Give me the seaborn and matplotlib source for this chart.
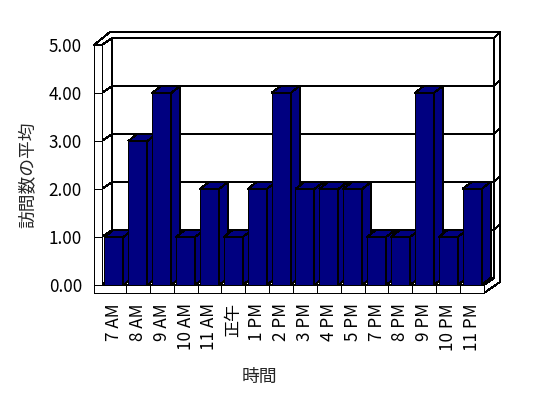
import matplotlib
matplotlib.use("Agg")
import matplotlib.pyplot as plt
import seaborn as sns
import pandas as pd
from matplotlib.patches import Polygon
from matplotlib.lines import Line2D

# ---- data ----
hours = ["7 AM", "8 AM", "9 AM", "10 AM", "11 AM", "正午", "1 PM", "2 PM",
         "3 PM", "4 PM", "5 PM", "7 PM", "8 PM", "9 PM", "10 PM", "11 PM"]
visits = [1, 3, 4, 1, 2, 1, 2, 4, 2, 2, 2, 1, 1, 4, 1, 2]
ytick_values = [0, 1, 2, 3, 4, 5]
ytick_labels = ["0.00", "1.00", "2.00", "3.00", "4.00", "5.00"]
xlabel = "時間"
ylabel = "訪問数の平均"

NAVY = "#000080"
LW = 0.72

sns.set_theme(style="white")
plt.rcParams["font.family"] = ["Noto Sans CJK JP", "DejaVu Sans"]
plt.rcParams["patch.antialiased"] = False
plt.rcParams["lines.antialiased"] = False

W, H = 548, 398
fig = plt.figure(figsize=(W / 100, H / 100), dpi=100)
fig.patch.set_facecolor("white")
ax = fig.add_axes([102 / W, 1 - 285 / H, 382 / W, 240 / H])

df = pd.DataFrame({"hour": hours, "visits": visits})
sns.barplot(data=df, x="hour", y="visits", color=NAVY, saturation=1,
            width=0.8, edgecolor="black", linewidth=LW, ax=ax)
bars = list(ax.patches)

ax.set_xlim(-0.5, len(hours) - 0.5)
ax.set_ylim(ytick_values[0], ytick_values[-1])
for s in ax.spines.values():
    s.set_visible(False)
ax.patch.set_alpha(0)
ax.grid(False)

# pixel -> data helpers
p0 = ax.transData.transform((0, 0))
p1 = ax.transData.transform((1, 1))
ppx, ppy = p1[0] - p0[0], p1[1] - p0[1]


def P(x, y, dx=0, dy=0):
    return (x + dx / ppx, y + dy / ppy)


def poly(pts, z, fc="white"):
    ax.add_patch(Polygon(pts, closed=True, facecolor=fc, edgecolor="black",
                         lw=LW, zorder=z, clip_on=False, joinstyle="miter"))


def line(pts, z):
    xs, ys = zip(*pts)
    ax.add_line(Line2D(xs, ys, color="black", lw=LW, zorder=z, clip_on=False))


x0, x1 = ax.get_xlim()
y0, y1 = ax.get_ylim()
DX, DY = 10, 7      # wall depth (px)
BX, BY = 9, 7       # bar depth (px)
FT = 8              # front slab thickness (px)

# back wall face
poly([P(x0, y0, DX, DY), P(x1, y0, DX, DY), P(x1, y1, DX, DY), P(x0, y1, DX, DY)], 0.1)
# back wall top slab
poly([P(x0, y1, DX, DY), P(x1, y1, DX, DY), P(x1, y1, 16, 13), P(x0, y1, 8, 13),
      P(x0, y1, -FT, 0), P(x0, y1)], 0.15)
# right slab face
poly([P(x1, y1, DX, DY), P(x1, y1, 16, 13), P(x1, y0, 16, 3), P(x1, y0, 0, -FT),
      P(x1, y0), P(x1, y0, DX, DY)], 0.15)
# left wall side face
poly([P(x0, y0), P(x0, y0, DX, DY), P(x0, y1, DX, DY), P(x0, y1)], 0.2)
# floor top
poly([P(x0, y0), P(x1, y0), P(x1, y0, DX, DY), P(x0, y0, DX, DY)], 0.3)
# gridlines
for v in ytick_values[1:-1]:
    line([P(x0, v), P(x0, v, DX, DY), P(x1, v, DX, DY), P(x1, v, 16, 13)], 0.4)
# left wall front face + ticks
poly([P(x0, y0, -FT, 0), P(x0, y0), P(x0, y1), P(x0, y1, -FT, 0)], 0.5)
for v in ytick_values[1:-1]:
    line([P(x0, v, -FT, 0), P(x0, v)], 0.55)
# floor front face + dividers
poly([P(x0, y0, -FT, 0), P(x1, y0), P(x1, y0, 0, -FT), P(x0, y0, -FT, -FT)], 0.5)
for k in range(len(hours) - 1):
    line([P(k + 0.5, y0), P(k + 0.5, y0, 0, -FT)], 0.55)

# 3D bars
for i, p in enumerate(bars):
    z = 2 + i
    p.set_zorder(z)
    bx, bw, bh = p.get_x(), p.get_width(), p.get_height()
    r = bx + bw
    poly([P(r, 0), P(r, 0, BX, BY), P(r, bh, BX, BY), P(r, bh)], z + 0.5, NAVY)
    poly([P(bx, bh), P(r, bh), P(r, bh, BX, BY), P(bx, bh, BX, BY)], z + 0.5, NAVY)

ax.set_yticks(ytick_values, ytick_labels)
ax.tick_params(axis="y", length=0, pad=14.4, labelsize=12.3, colors="black")
ax.tick_params(axis="x", length=0, pad=13, labelsize=12.3, labelrotation=90,
               colors="black")
ax.set_xlabel("")
ax.set_ylabel("")

fig.text(259 / W, 1 - 377 / H, xlabel, ha="center", va="center", fontsize=12.8)
fig.text(27.5 / W, 1 - 175 / H, ylabel, rotation=90, ha="center", va="center",
         fontsize=12.8)

fig.savefig("out.png", dpi=100, facecolor="white")
